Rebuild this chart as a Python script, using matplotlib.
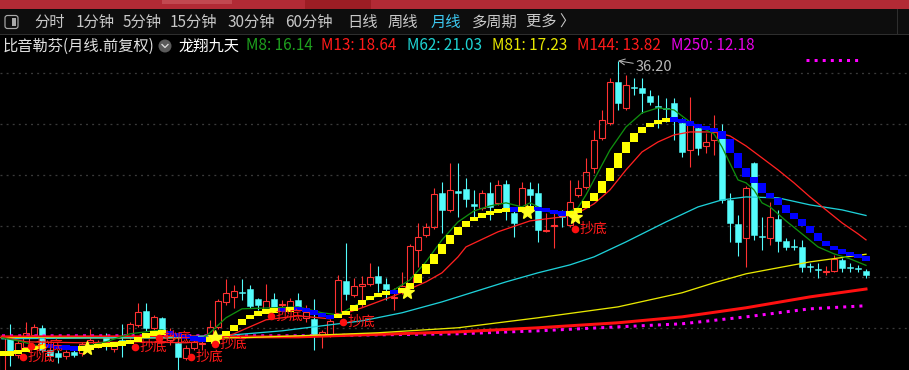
import numpy as np
import matplotlib
matplotlib.use("Agg")
import matplotlib.pyplot as plt
from matplotlib.patches import Rectangle, FancyBboxPatch, Circle

plt.rcParams['font.family'] = ['Noto Sans CJK SC', 'DejaVu Sans']

# ---------------- data (monthly candles, price) ----------------
opens = [5.41, 9.13, 7.37, 8.15, 9.33, 10.02, 7.86, 7.57, 7.27, 7.66,
         7.57, 8.06, 8.25, 9.13, 7.96, 8.84, 9.13, 10.31, 11.68, 10.02,
         11.00, 8.84, 8.55, 7.08, 8.06, 8.45, 9.13, 10.11, 12.56, 13.05,
         13.54, 13.84, 12.86, 11.78, 12.86, 12.27, 11.98, 12.76, 10.98, 10.90,
         9.33, 9.33, 11.49, 14.62, 13.25, 14.13, 14.33, 15.11, 14.33, 12.96,
         13.54, 14.03, 17.66, 19.13, 19.91, 23.25, 21.58, 23.44, 23.64, 22.17,
         21.78, 23.25, 22.27, 24.13, 21.29, 21.58, 23.64, 23.25, 19.52, 20.01,
         21.09, 20.11, 23.05, 23.83, 25.70, 28.64, 30.11, 34.12, 31.58, 33.63,
         33.54, 32.75, 31.77, 31.58, 32.07, 30.11, 27.46, 29.62, 27.85, 28.44,
         29.13, 22.56, 20.21, 18.84, 26.19, 19.03, 18.84, 20.70, 18.54, 18.05,
         17.95, 16.09, 15.80, 15.50, 15.60, 16.68, 15.99, 15.90, 15.60]
highs = [9.33, 10.41, 8.84, 10.60, 10.41, 10.31, 8.25, 7.86, 7.86, 7.86,
         8.64, 9.92, 8.84, 9.53, 8.64, 10.41, 10.60, 12.47, 12.47, 11.29,
         11.09, 10.02, 9.13, 8.35, 8.94, 9.23, 10.80, 12.86, 14.82, 14.23,
         14.82, 14.23, 12.96, 14.33, 13.45, 12.76, 12.96, 13.45, 12.27, 12.86,
         9.82, 10.90, 15.21, 18.35, 14.92, 15.11, 16.39, 16.09, 14.92, 13.94,
         15.50, 18.25, 20.31, 20.31, 23.74, 24.32, 26.19, 26.19, 24.72, 23.54,
         23.54, 24.32, 24.52, 24.52, 21.87, 24.32, 24.32, 24.23, 21.29, 21.29,
         21.58, 24.52, 24.52, 26.68, 29.42, 31.38, 34.52, 36.20, 34.81, 34.52,
         34.52, 33.34, 32.85, 32.56, 32.56, 30.60, 32.65, 29.91, 29.13, 30.89,
         30.01, 23.25, 21.09, 23.93, 26.28, 20.89, 22.36, 21.58, 18.84, 18.74,
         18.64, 16.39, 16.39, 16.09, 17.17, 16.87, 16.39, 16.19, 15.80]
lows = [5.12, 6.29, 7.08, 7.86, 9.13, 7.66, 6.88, 6.59, 6.98, 7.17,
        7.27, 7.86, 8.06, 7.86, 7.66, 7.17, 8.94, 10.11, 9.72, 9.72,
        9.53, 8.35, 5.90, 6.88, 7.86, 7.86, 8.94, 9.92, 12.27, 11.98,
        12.76, 11.98, 11.78, 11.58, 11.88, 11.78, 11.78, 11.88, 10.60, 7.86,
        8.06, 9.13, 11.29, 12.76, 13.05, 12.07, 14.13, 13.54, 12.76, 11.78,
        13.35, 13.84, 16.00, 18.93, 19.72, 19.33, 21.38, 20.89, 21.87, 20.89,
        21.58, 20.60, 22.07, 20.60, 18.93, 21.38, 21.58, 18.44, 19.42, 17.86,
        19.91, 19.91, 22.85, 23.64, 25.21, 28.44, 29.91, 31.38, 31.38, 32.85,
        31.09, 31.87, 29.62, 30.20, 28.44, 26.77, 25.79, 26.97, 27.17, 26.97,
        22.27, 18.44, 17.07, 16.00, 18.64, 17.66, 18.15, 17.46, 17.66, 17.66,
        15.50, 15.50, 14.92, 15.21, 15.50, 15.50, 15.50, 15.50, 14.92]
closes = [9.13, 7.66, 8.55, 9.53, 10.11, 7.86, 7.27, 7.17, 7.66, 7.37,
          8.45, 8.84, 8.55, 8.35, 8.45, 8.64, 10.41, 11.58, 10.02, 11.09,
          9.82, 9.63, 7.17, 8.06, 8.64, 8.55, 10.11, 12.66, 13.45, 13.64,
          13.45, 12.17, 12.27, 12.66, 12.07, 12.37, 12.66, 12.07, 11.58, 9.33,
          9.63, 10.70, 14.72, 13.35, 14.13, 14.33, 15.01, 14.43, 13.84, 13.05,
          14.13, 18.05, 18.93, 19.91, 23.15, 21.58, 23.54, 23.25, 22.66, 21.97,
          23.25, 21.87, 24.03, 21.78, 20.31, 23.74, 23.05, 19.62, 19.62, 20.11,
          20.89, 22.36, 23.74, 25.30, 28.44, 30.40, 34.12, 32.07, 33.83, 33.54,
          33.05, 32.16, 31.67, 31.48, 30.60, 27.26, 29.91, 27.66, 28.24, 29.22,
          22.56, 20.31, 18.44, 23.74, 19.13, 18.93, 20.89, 18.54, 17.95, 17.95,
          15.99, 15.99, 15.70, 15.60, 16.78, 15.90, 15.90, 15.80, 15.21]

# 龙翔九天 stepped band
band = [7.47, 7.57, 7.76, 7.96, 8.15, 8.25, 8.20, 8.11, 8.01, 7.96,
        8.06, 8.15, 8.30, 8.35, 8.45, 8.55, 8.74, 9.04, 9.43, 9.53,
        9.58, 9.43, 9.23, 9.04, 8.94, 8.84, 8.94, 9.23, 9.72, 10.31,
        10.90, 11.29, 11.58, 11.68, 11.78, 11.73, 11.88, 11.83, 11.68, 11.39,
        11.14, 11.05, 11.29, 11.68, 12.27, 12.76, 13.15, 13.35, 13.54, 13.49,
        13.84, 14.43, 15.31, 16.29, 17.27, 18.25, 19.13, 19.91, 20.50, 20.89,
        21.19, 21.38, 21.53, 21.63, 21.58, 21.68, 21.73, 21.63, 21.48, 21.29,
        21.19, 21.29, 21.78, 22.46, 23.25, 24.42, 25.70, 27.17, 28.24, 29.13,
        29.71, 30.11, 30.30, 30.50, 30.40, 30.15, 29.91, 29.71, 29.52, 29.32,
        28.54, 27.17, 25.70, 24.81, 24.23, 23.25, 22.76, 22.07, 21.29, 20.70,
        20.01, 19.33, 18.54, 18.05, 17.66, 17.37, 17.17, 16.97, 16.68]

# moving averages at sample candles
m8_idx = [0, 2, 5, 10, 13, 16, 20, 23, 25, 26, 28, 30, 34, 37, 40, 42, 45, 49, 51, 53,
          55, 57, 59, 61, 63, 65, 66, 68, 70, 72, 73, 74, 76, 78, 80, 82, 84, 86, 88, 89,
          90, 92, 93, 94, 95, 96, 97, 98, 100, 102, 104, 106, 108]
m8_val = [9.04, 8.74, 8.15, 8.15, 8.64, 9.43, 9.82, 9.04, 8.94, 9.53, 11.00, 11.88, 11.98, 12.07,
          11.49, 11.29, 12.56, 13.74, 14.72, 16.49, 18.64, 20.40, 21.48, 21.97, 22.27, 21.87,
          22.27, 21.48, 21.09, 21.78, 23.05, 24.52, 27.46, 29.71, 31.09, 31.58, 31.38, 30.20,
          29.42, 29.03, 27.75, 24.52, 24.23, 23.54, 22.27, 21.87, 21.19, 20.50, 19.23, 17.95,
          17.27, 16.78, 16.14]
m13_idx = [0, 3, 10, 17, 23, 26, 29, 33, 37, 41, 45, 49, 51, 53, 55, 57, 58, 62, 66, 70,
           72, 74, 76, 78, 80, 82, 84, 86, 89, 91, 93, 95, 97, 99, 101, 103, 105, 107, 108]
m13_val = [9.13, 8.64, 8.55, 8.64, 8.55, 8.74, 9.43, 10.80, 11.19, 10.90, 11.98, 13.15, 13.84,
           14.52, 15.41, 16.97, 17.95, 19.43, 20.50, 20.89, 21.29, 22.17, 23.54, 25.50, 27.26,
           28.24, 28.93, 29.22, 29.22, 28.83, 27.85, 26.68, 25.50, 24.23, 22.85, 21.58, 20.31,
           19.23, 18.64]
m62_idx = [0, 13, 20, 29, 35, 37, 45, 50, 55, 59, 63, 67, 71, 74, 78, 83, 87, 90, 93, 97,
           101, 105, 108]
m62_val = [8.94, 9.04, 9.04, 9.33, 9.72, 9.92, 10.70, 11.49, 12.56, 13.54, 14.52, 15.41, 16.19,
           16.97, 18.44, 20.40, 21.87, 22.56, 22.85, 22.76, 22.07, 21.58, 21.03]
m81_idx = [0, 30, 37, 47, 57, 67, 77, 85, 89, 93, 97, 101, 108]
m81_val = [9.04, 9.04, 9.23, 9.53, 10.02, 11.00, 12.07, 13.45, 14.43, 15.31, 15.90, 16.48, 17.23]
m144_idx = [0, 37, 57, 67, 77, 85, 93, 101, 108]
m144_val = [9.13, 9.13, 9.62, 10.02, 10.51, 11.09, 11.98, 13.05, 13.82]
m250_idx = [0, 37, 57, 67, 77, 85, 93, 101, 108]
m250_val = [9.23, 9.23, 9.43, 9.72, 10.11, 10.41, 11.09, 11.88, 12.18]

star_idx = [10, 26, 50, 65, 71]
star_val = [8.06, 9.13, 13.54, 21.38, 20.89]
dot_idx = [2, 3, 16, 19, 23, 26, 33, 42, 71]
dot_val = [7.17, 8.25, 8.15, 9.04, 7.17, 8.45, 11.19, 10.60, 19.72]

tabs = ["分时", "1分钟", "5分钟", "15分钟", "30分钟", "60分钟", "日线", "周线", "月线", "多周期", "更多 〉"]
tab_x = [34, 76, 123, 170, 228, 285, 347, 388, 431, 472, 526]

UP = '#ff3232'
DN = '#54fcfc'
PX = 0.72  # one pixel in points at 100 dpi

fig = plt.figure(figsize=(9.09, 3.70), dpi=100, facecolor='black')
ax = fig.add_axes([0, 0, 1, 318 / 370])
ax.set_facecolor('black')
ax.set_xlim(-0.25, 113.375)
ax.set_ylim(5.88, 37.06)
ax.axis('off')

for lvl in [10, 15, 20, 25, 30, 35]:
    ax.axhline(lvl, color='#3a3a3a', lw=1.3 * PX, ls=(0, (1.5, 3.2)), zorder=1)

# candles
for i, (o, h, l, c) in enumerate(zip(opens, highs, lows, closes)):
    if c >= o:
        ax.add_patch(Rectangle((i - 0.36, o), 0.72, max(c - o, 0.05), fill=False,
                               ec=UP, lw=1.1 * PX, zorder=2))
        ax.vlines(i, c, h, color=UP, lw=1.1 * PX, zorder=2)
        ax.vlines(i, l, o, color=UP, lw=1.1 * PX, zorder=2)
    else:
        ax.add_patch(Rectangle((i - 0.36, c), 0.72, max(o - c, 0.06), fc=DN,
                               ec=DN, lw=0.5 * PX, zorder=2))
        ax.vlines(i, l, h, color=DN, lw=1.1 * PX, zorder=2)

# moving averages
ax.plot(m250_idx, m250_val, color='#ff00ff', lw=3 * PX, ls=(0, (1.0, 1.7)),
        dash_capstyle='butt', zorder=3)
ax.plot(m144_idx, m144_val, color='#ff1010', lw=3 * PX, zorder=3)
ax.plot(m81_idx, m81_val, color='#e8e800', lw=1.3 * PX, zorder=3)
ax.plot(m62_idx, m62_val, color='#1ed0d8', lw=1.3 * PX, zorder=3)
ax.plot(m13_idx, m13_val, color='#ff2020', lw=1.3 * PX, zorder=3)
ax.plot(m8_idx, m8_val, color='#0f8f0f', lw=1.3 * PX, zorder=3)

# stepped band: yellow when rising, blue when falling
for i, v in enumerate(band):
    prev = band[i - 1] if i > 0 else v
    lo, hi = min(prev, v), max(prev, v)
    if hi - lo < 0.45:
        mid = (hi + lo) / 2
        lo, hi = mid - 0.225, mid + 0.225
    col = '#ffff00' if v >= prev else '#0000ff'
    ax.add_patch(Rectangle((i - 0.5, lo), 1.0, hi - lo, fc=col, ec='none', zorder=4))

ax.plot(np.array(star_idx) + 0.6, star_val, '*', color='#ffff20', ms=10, mec='#ffff20', zorder=5)
ax.plot(np.array(dot_idx) + 0.6, dot_val, 'o', color='#ff1010', ms=5.5, mec='none', zorder=5)
for i, v in zip(dot_idx, dot_val):
    ax.text(i + 1.15, v, "抄底", color='#ff1a1a', fontsize=10, va='center', ha='left', zorder=6)

hi_i = int(np.argmax(highs))
ax.annotate(f"{highs[hi_i]:.2f}", xy=(hi_i, highs[hi_i]), xytext=(18, -6),
            textcoords='offset pixels', color='#b8b8b8', fontsize=10.5, va='center', ha='left',
            arrowprops=dict(arrowstyle='->', color='#b8b8b8', lw=1.0 * PX, shrinkA=0, shrinkB=0))

# ---------------- header UI ----------------
ui = fig.add_axes([0, 0, 1, 1])
ui.set_xlim(0, 909)
ui.set_ylim(370, 0)
ui.axis('off')
ui.patch.set_visible(False)

ui.add_patch(Rectangle((0, 0), 909, 8.5, fc='#b22a35', ec='none'))
ui.add_patch(Rectangle((162, 0), 70, 3.5, fc='#c24850', ec='none'))
ui.add_patch(Rectangle((305, 0), 66, 8.5, fc='#9c1d24', ec='none'))
ui.add_patch(Rectangle((0, 8.5), 909, 25, fc='#0d0d0d', ec='none'))
ui.plot([0, 909], [33.5, 33.5], color='#2e2e2e', lw=1 * PX)
ui.plot([897, 897], [8.5, 33.5], color='#2e2e2e', lw=1 * PX)

ui.add_patch(FancyBboxPatch((5, 15.5), 13, 13, boxstyle='round,pad=0,rounding_size=2.5',
                            fc='none', ec='#a8a8a8', lw=1.2 * PX))
ui.add_patch(Rectangle((11.5, 18), 4, 8, fc='#a8a8a8', ec='none'))

for t, x in zip(tabs, tab_x):
    ui.text(x, 22, t, color='#3cc8f0' if t == "月线" else '#c8c8c8', fontsize=11,
            va='center', ha='left')

ui.text(3, 46, "比音勒芬(月线.前复权)", color='#e0e0e0', fontsize=11, va='center', ha='left')
ui.add_patch(Circle((165, 46), 6.5, fc='#5a5a5a', ec='none'))
ui.plot([162, 165, 168], [44.5, 47.5, 44.5], color='#dcdcdc', lw=1.3 * PX)
ui.text(179, 46, "龙翔九天", color='#ffffff', fontsize=11, va='center', ha='left')

labels = [("M8", m8_val[-1], '#1ea01e', 246), ("M13", m13_val[-1], '#ff1a1a', 321),
          ("M62", m62_val[-1], '#1ed2d2', 407), ("M81", m81_val[-1], '#e6e600', 492),
          ("M144", m144_val[-1], '#ff1a1a', 577), ("M250", m250_val[-1], '#e600e6', 671)]
for name, val, col, x in labels:
    ui.text(x, 46, f"{name}: {val:.2f}", color=col, fontsize=11, va='center', ha='left')

ui.plot([806, 860], [60, 60], color='#ff00ff', lw=3 * PX, ls=(0, (1.0, 1.7)), dash_capstyle='butt')

fig.savefig('out.png', dpi=100, facecolor='black')
